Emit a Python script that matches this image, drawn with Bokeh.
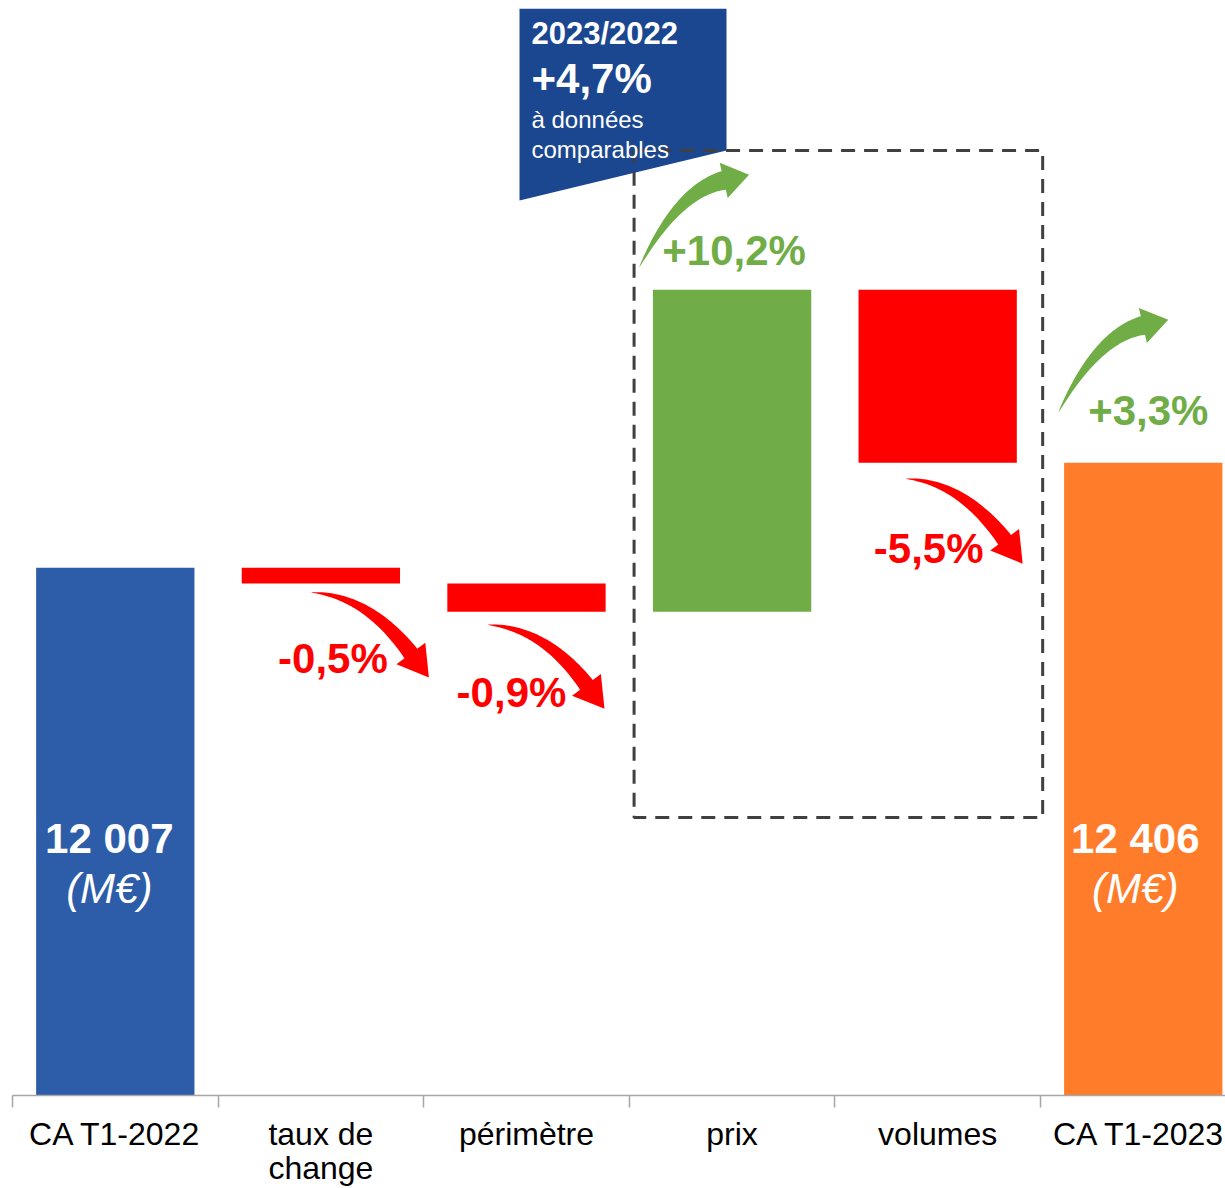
import numpy as np
from bokeh.plotting import figure
from bokeh.models import FixedTicker, Range1d
from bokeh.core.properties import value
from bokeh.embed import file_html
from bokeh.resources import INLINE

# ---------------- data ----------------
categories = ["CA T1-2022", "taux de\nchange", "périmètre", "prix", "volumes", "CA T1-2023"]
start_value = 12007
deltas = [-60, -108, 1225, -658]
end_value = 12406
delta_labels = ["-0,5%", "-0,9%", "+10,2%", "-5,5%"]
total_change_label = "+3,3%"
unit_label = "(M€)"
box_title = "2023/2022"
box_value = "+4,7%"
box_note = ["à données", "comparables"]

# ---------------- styles ----------------
BLUE = "#2D5DA8"
ORANGE = "#FF7C2A"
RED = "#FF0000"
GREEN = "#70AD47"
NAVY = "#1B4690"
FONT = value("Liberation Sans")

FRAME_W, FRAME_H = 1213, 1087
X_START, X_END = -0.5, 5.4
Y_START, Y_END = 10000, 14133
SX = FRAME_W / (X_END - X_START)
SY = FRAME_H / (Y_END - Y_START)
FRAME_LEFT_PX, FRAME_TOP_PX = 12, 8


def dx(xp):
    return X_START + (xp - FRAME_LEFT_PX) / SX


def dy(yp):
    return Y_END - (yp - FRAME_TOP_PX) / SY


def xpx(x):
    return FRAME_LEFT_PX + (x - X_START) * SX


def ypx(y):
    return FRAME_TOP_PX + (Y_END - y) * SY


# ---------------- waterfall geometry ----------------
xs = list(range(len(categories)))
bottoms, tops, colors = [Y_START], [start_value], [BLUE]
anchors = []  # (x, y) of the step end for each delta
running = start_value
for i, d in enumerate(deltas):
    new = running + d
    bottoms.append(min(running, new))
    tops.append(max(running, new))
    colors.append(GREEN if d > 0 else RED)
    anchors.append((xs[i + 1], new if d > 0 else min(running, new)))
    running = new
bottoms.append(Y_START)
tops.append(end_value)
colors.append(ORANGE)

p = figure(frame_width=FRAME_W, frame_height=FRAME_H,
           x_range=Range1d(X_START, X_END), y_range=Range1d(Y_START, Y_END),
           output_backend="svg", toolbar_location=None, y_axis_location=None,
           min_border_left=FRAME_LEFT_PX, min_border_right=0,
           min_border_top=FRAME_TOP_PX, min_border_bottom=0,
           background_fill_color="white", border_fill_color="white")
p.outline_line_color = None
p.grid.visible = False

# blue "like for like" box
box_px = [(519, 8), (726, 8), (726, 150), (519, 200)]
p.patch([dx(a) for a, b in box_px], [dy(b) for a, b in box_px], fill_color=NAVY, line_color=None)

# bars
p.vbar(x=xs, width=0.77, bottom=bottoms, top=tops, fill_color=colors, line_color=None)

# dashed rectangle around prix / volumes
left = dx(xpx(3) - 98)
right = dx(xpx(4) + 105)
p.line([left, right, right, left, left], [dy(150), dy(150), dy(817), dy(817), dy(150)],
       line_color="#404040", line_width=3, line_dash="14 9")


# curved arrows
def arrow(tail, tip, tail_dir, head_dir, head_len, head_hw, body_w, n=50):
    T = np.array(tail, float)
    P = np.array(tip, float)
    d = np.array(head_dir, float); d /= np.linalg.norm(d)
    u = np.array(tail_dir, float); u /= np.linalg.norm(u)
    B = P - head_len * d
    M = np.array([u, d]).T
    a, b = np.linalg.solve(M, B - T)
    C = T + a * u
    t = np.linspace(0, 1, n)[:, None]
    Q = (1 - t) ** 2 * T + 2 * (1 - t) * t * C + t ** 2 * B
    D = 2 * (1 - t) * (C - T) + 2 * t * (B - C)
    D /= np.linalg.norm(D, axis=1)[:, None]
    N = np.column_stack([-D[:, 1], D[:, 0]])
    w = body_w * (t[:, 0] ** 0.8)
    L = Q + N * (w[:, None] / 2)
    R = Q - N * (w[:, None] / 2)
    nB = N[-1]
    pts = list(L) + [B + nB * head_hw, P, B - nB * head_hw] + list(R[::-1])
    return [dx(q[0]) for q in pts], [dy(q[1]) for q in pts]


red_arrows = [((-10, 9), (108, 94)), ((-39, 13), (78, 97)), (None, None), ((-32, 16), (85, 101))]
for (ax, ay), off in zip(anchors, red_arrows):
    if off[0] is None:
        continue
    cx, cy = xpx(ax), ypx(ay)
    xsa, ysa = arrow((cx + off[0][0], cy + off[0][1]), (cx + off[1][0], cy + off[1][1]),
                     (1, 0.05), (0.6, 0.8), 30, 18, 16)
    p.patch(xsa, ysa, fill_color=RED, line_color=None)

green_specs = [((xpx(anchors[2][0]), ypx(anchors[2][1])), (-93, -22), (17, -115)),
               ((xpx(xs[-1]), ypx(end_value)), (-85, -50), (25, -143))]
for (cx, cy), t0, t1 in green_specs:
    xsa, ysa = arrow((cx + t0[0], cy + t0[1]), (cx + t1[0], cy + t1[1]),
                     (0.45, -0.89), (0.97, -0.22), 26, 18, 19)
    p.patch(xsa, ysa, fill_color=GREEN, line_color=None)

# percentage labels
lab_offsets = [(12, 75), (-15, 81), (2, -39), (-9, 86)]
lx, ly, lt, lc = [], [], [], []
for (ax, ay), off, txt, d in zip(anchors, lab_offsets, delta_labels, deltas):
    lx.append(dx(xpx(ax) + off[0]))
    ly.append(dy(ypx(ay) + off[1]))
    lt.append(txt)
    lc.append(GREEN if d > 0 else RED)
lx.append(dx(xpx(xs[-1]) + 5))
ly.append(dy(ypx(end_value) - 52))
lt.append(total_change_label)
lc.append(GREEN)
p.text(x=lx, y=ly, text=lt, text_color=lc, text_font=FONT, text_font_style="bold",
       text_font_size="42px", text_align="center", text_baseline="middle")

# values inside bars
vals = [start_value, end_value]
vx = [dx(xpx(xs[0]) - 6), dx(xpx(xs[-1]) - 8)]
p.text(x=vx, y=[dy(838)] * 2, text=[f"{v:,}".replace(",", " ") for v in vals],
       text_color="white", text_font=FONT, text_font_style="bold", text_font_size="42px",
       text_align="center", text_baseline="middle")
p.text(x=vx, y=[dy(888)] * 2, text=[unit_label] * 2,
       text_color="white", text_font=FONT, text_font_style="italic", text_font_size="42px",
       text_align="center", text_baseline="middle")

# box texts
bx = dx(531)
p.text(x=[bx], y=[dy(33)], text=[box_title], text_color="white", text_font=FONT,
       text_font_style="bold", text_font_size="31px", text_baseline="middle")
p.text(x=[bx], y=[dy(78)], text=[box_value], text_color="white", text_font=FONT,
       text_font_style="bold", text_font_size="42px", text_baseline="middle")
p.text(x=[bx, bx], y=[dy(119), dy(149)], text=box_note, text_color="white", text_font=FONT,
       text_font_size="24px", text_baseline="middle")

# x axis
ax_ = p.xaxis[0]
ax_.ticker = FixedTicker(ticks=xs, minor_ticks=[i - 0.5 for i in range(len(xs) + 1)])
ax_.major_label_overrides = {i: c for i, c in enumerate(categories)}
ax_.axis_line_color = "#A6A6A6"
ax_.axis_line_width = 1.5
ax_.major_tick_out = 0
ax_.major_tick_in = 0
ax_.minor_tick_out = 12
ax_.minor_tick_in = 0
ax_.minor_tick_line_color = "#A6A6A6"
ax_.minor_tick_line_width = 1.5
ax_.major_label_text_font = "Liberation Sans"
ax_.major_label_text_font_size = "32px"
ax_.major_label_text_color = "black"
ax_.major_label_text_line_height = 0.95
ax_.major_label_standoff = 8

open("out.html", "w").write(file_html(p, INLINE))
